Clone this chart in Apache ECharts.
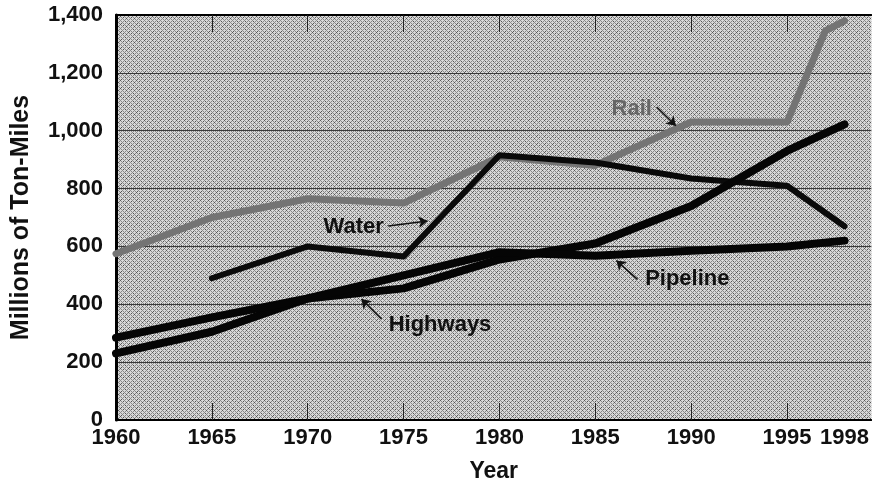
<!DOCTYPE html>
<html>
<head>
<meta charset="utf-8">
<script src="https://cdn.jsdelivr.net/npm/echarts@6/dist/echarts.min.js"></script>
<style>
    html, body { margin: 0; padding: 0; background: #fff; }
    #chart { width: 872px; height: 488px; }
</style>
</head>
<body>
<div id="chart"></div>
<script>
// values (millions of ton-miles)
var railData = [[1960, 575], [1965, 700], [1970, 765], [1975, 750], [1980, 910], [1985, 880], [1990, 1030], [1995, 1030], [1997, 1345], [1998, 1380]];
var waterData = [[1965, 490], [1970, 600], [1975, 565], [1980, 915], [1985, 890], [1990, 835], [1995, 810], [1998, 670]];
var highwayData = [[1960, 230], [1965, 305], [1970, 420], [1975, 455], [1980, 555], [1985, 610], [1990, 740], [1995, 930], [1998, 1022]];
var pipelineData = [[1960, 285], [1965, 355], [1970, 420], [1975, 500], [1980, 580], [1985, 568], [1990, 585], [1995, 600], [1998, 620]];

var yearLabels = [1960, 1965, 1970, 1975, 1980, 1985, 1990, 1995, 1998];
var yearTicks = [1965, 1970, 1975, 1980, 1985, 1990, 1995];

// name, text position [year, value], arrow tail, arrow tip
var labelNames = ['Rail', 'Water', 'Pipeline', 'Highways'];
var labelAt = [[1986.9, 1075], [1972.4, 668], [1989.8, 486], [1976.9, 329]];
var arrowFrom = [[1988.2, 1082], [1974.2, 671], [1987.2, 486], [1973.85, 349]];
var arrowTo = [[1989.2, 1017], [1976.25, 688], [1986.1, 551], [1972.8, 418]];

var font = 'Liberation Sans, Arial, Helvetica, sans-serif';

// crosshatch tile for the plot background
function makeHatch(){
    var c = document.createElement('canvas');
    c.width = 8; c.height = 8;
    var ctx = c.getContext('2d');
    ctx.fillStyle = '#d8d8d8';
    ctx.fillRect(0, 0, 8, 8);
    for(var x = 0; x < 8; x++){
        for(var y = 0; y < 8; y++){
            if((x + y) % 4 === 0 || (x - y + 8) % 4 === 0){
                ctx.fillStyle = ((x * 3 + y) % 5 === 0) ? '#555' : '#888';
                ctx.fillRect(x, y, 1, 1);
            }
        }
    }
    return c;
}

function lineSeries(name, data, color, width){
    return {
        name: name,
        type: 'line',
        data: data,
        symbol: 'none',
        smooth: false,
        lineStyle: { color: color, width: width, cap: 'round', join: 'round' },
        z: 3
    };
}

var markLines = [], markPoints = [];
for(var i = 0; i < labelNames.length; i++){
    markLines.push([{ coord: arrowFrom[i], symbol: 'none' }, { coord: arrowTo[i], symbol: 'arrow' }]);
    markPoints.push({
        coord: labelAt[i],
        value: labelNames[i],
        label: { color: i === 0 ? '#666' : '#111' }
    });
}

var series = [
    lineSeries('Rail', railData, '#747474', 7),
    lineSeries('Water', waterData, '#0a0a0a', 6),
    lineSeries('Highways', highwayData, '#050505', 8),
    lineSeries('Pipeline', pipelineData, '#050505', 8)
];
series.push({
    type: 'line',
    data: [],
    silent: true,
    markLine: {
        silent: true,
        symbolSize: 9,
        lineStyle: { color: '#111', width: 1.5, type: 'solid' },
        label: { show: false },
        data: markLines
    },
    markPoint: {
        silent: true,
        symbol: 'circle',
        symbolSize: 0,
        label: {
            show: true,
            position: 'inside',
            formatter: '{c}',
            fontFamily: font,
            fontWeight: 'bold',
            fontSize: 22
        },
        data: markPoints
    },
    z: 4
});

var chart = echarts.init(document.getElementById('chart'));
chart.setOption({
    animation: false,
    backgroundColor: '#fff',
    grid: {
        left: 116, top: 15, right: 0, bottom: 64,
        show: true,
        borderWidth: 0,
        backgroundColor: { image: makeHatch(), repeat: 'repeat' }
    },
    xAxis: [{
        type: 'value',
        min: 1960,
        max: 1999.4,
        interval: 5,
        name: 'Year',
        nameLocation: 'middle',
        nameGap: 40,
        nameTextStyle: { fontFamily: font, fontWeight: 'bold', fontSize: 23, color: '#111' },
        axisLine: { show: true, lineStyle: { color: '#000', width: 2 } },
        axisTick: { show: true, inside: true, length: 17, customValues: yearTicks, lineStyle: { color: '#222', width: 1 } },
        axisLabel: {
            customValues: yearLabels,
            margin: 7,
            fontFamily: font, fontWeight: 'bold', fontSize: 22, color: '#111',
            formatter: function(v){ return String(v); }
        },
        splitLine: { show: false }
    }, {
        type: 'value',
        position: 'top',
        min: 1960,
        max: 1999.4,
        interval: 5,
        axisLine: { show: true, lineStyle: { color: '#000', width: 2 } },
        axisTick: { show: true, inside: true, length: 17, customValues: yearTicks, lineStyle: { color: '#222', width: 1 } },
        axisLabel: { show: false },
        splitLine: { show: false }
    }],
    yAxis: {
        type: 'value',
        min: 0,
        max: 1400,
        interval: 200,
        name: 'Millions of Ton-Miles',
        nameLocation: 'middle',
        nameGap: 82,
        nameTextStyle: { fontFamily: font, fontWeight: 'bold', fontSize: 25, color: '#111' },
        axisLine: { show: true, lineStyle: { color: '#000', width: 3 } },
        axisTick: { show: false },
        axisLabel: {
            margin: 13,
            fontFamily: font, fontWeight: 'bold', fontSize: 22, color: '#111',
            formatter: function(v){ return v.toLocaleString('en-US'); }
        },
        splitLine: { show: true, lineStyle: { color: '#3a3a3a', width: 1 } }
    },
    series: series
});
</script>
</body>
</html>
